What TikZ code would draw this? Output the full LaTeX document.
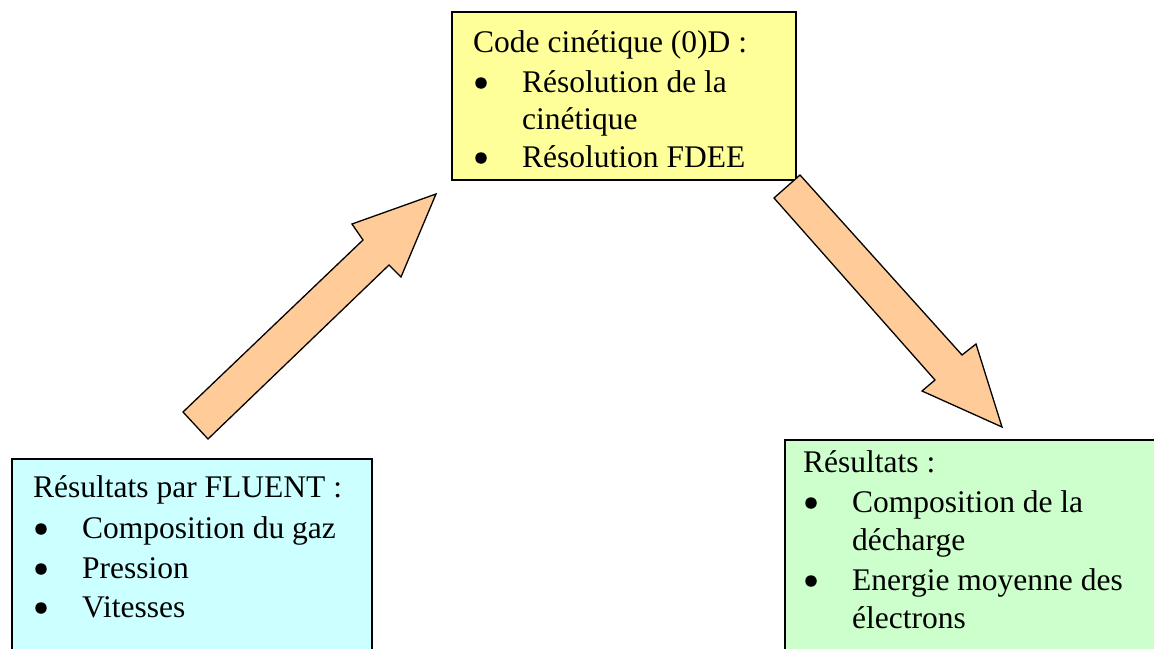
\documentclass[tikz,border=0pt]{standalone}
\usepackage{fontspec}
\setmainfont{Liberation Serif}
\begin{document}
\begin{tikzpicture}[x=1pt,y=-1pt,
  txt/.style={anchor=base west,inner sep=0pt,font=\fontsize{31.5}{38}\selectfont},
  bulletdot/.style={circle,fill=black,inner sep=0pt,minimum size=11.5pt},
  boxstyle/.style={draw=black,line width=1.3pt},
  blockarrow/.style={draw=black,line width=1.3pt,fill=arrowfill,line join=miter}]
\definecolor{yellowbox}{HTML}{FFFF99}
\definecolor{cyanbox}{HTML}{CCFFFF}
\definecolor{greenbox}{HTML}{CCFFCC}
\definecolor{arrowfill}{HTML}{FFCC99}
\useasboundingbox (0,0) rectangle (1154,648);
\clip (0,0) rectangle (1154,648);
% boxes
\path[boxstyle,fill=yellowbox] (452,12) rectangle (796,180);
\path[boxstyle,fill=cyanbox] (12,459) rectangle (372,670);
\path[boxstyle,fill=greenbox] (785,440) rectangle (1180,670);
% arrows
\path[blockarrow] (183,412) -- (363,240) -- (352,224) -- (436,194) -- (401,277) -- (389,265) -- (208,439) -- cycle;
\path[blockarrow] (800,175) -- (962,355) -- (976,344) -- (1002,427) -- (922,391) -- (935,380) -- (774,198) -- cycle;
% yellow text
\node[txt] (y0) at (473,52) {Code cinétique (0)D :};
\node[bulletdot] (yb1) at (481,83) {};
\node[txt] (y1) at (522,92) {Résolution de la};
\node[txt] (y2) at (522,129) {cinétique};
\node[bulletdot] (yb2) at (481,158) {};
\node[txt] (y3) at (522,167) {Résolution FDEE};
% cyan text
\node[txt] (c0) at (33,497) {Résultats par FLUENT :};
\node[bulletdot] (cb1) at (41,529) {};
\node[txt] (c1) at (82,538) {Composition du gaz};
\node[bulletdot] (cb2) at (41,569) {};
\node[txt] (c2) at (82,578) {Pression};
\node[bulletdot] (cb3) at (41,608) {};
\node[txt] (c3) at (82,617) {Vitesses};
% green text
\node[txt] (g0) at (803,472) {Résultats :};
\node[bulletdot] (gb1) at (811,503) {};
\node[txt] (g1) at (852,512) {Composition de la};
\node[txt] (g2) at (852,550) {décharge};
\node[bulletdot] (gb2) at (811,581) {};
\node[txt] (g3) at (852,590) {Energie moyenne des};
\node[txt] (g4) at (852,628) {électrons};
\end{tikzpicture}
\end{document}
